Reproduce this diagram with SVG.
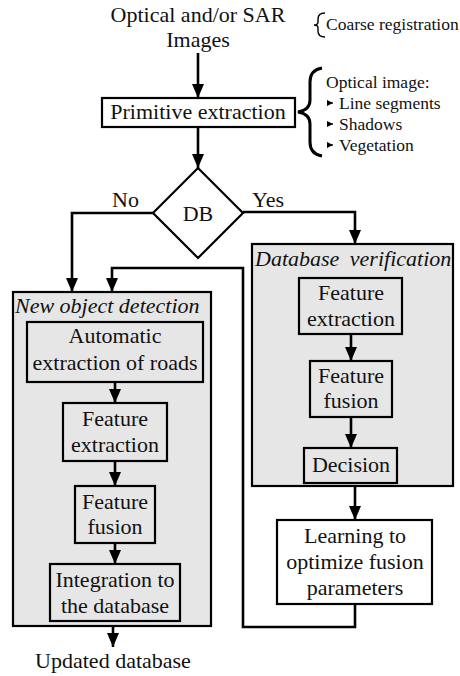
<svg xmlns="http://www.w3.org/2000/svg" width="460" height="676" viewBox="0 0 460 676" font-family="'Liberation Serif', 'DejaVu Serif', serif">
<style>
text{font-family:'Liberation Serif','DejaVu Serif',serif;fill:#111;}
.t{font-size:22px;text-anchor:middle;}
.s{font-size:17.5px;}
.it{font-size:22px;font-style:italic;}
.box{fill:#fff;stroke:#000;stroke-width:2.2;}
.gbox{fill:#e6e6e6;stroke:#000;stroke-width:2.2;}
.cont{fill:#e6e6e6;stroke:#000;stroke-width:2.2;}
.c{fill:none;stroke:#000;stroke-width:2.6;}
</style>
<defs>
<marker id="ah" markerUnits="userSpaceOnUse" markerWidth="14" markerHeight="12" refX="14" refY="6" orient="auto">
<path d="M0,0 L14,6 L0,12 z" fill="#000"/>
</marker>
<marker id="sa" markerUnits="userSpaceOnUse" markerWidth="6" markerHeight="6" refX="6" refY="3" orient="auto">
<path d="M0,0 L6,3 L0,6 z" fill="#000"/>
</marker>
</defs>

<g id="input">
<text class="t" x="198" y="22">Optical and/or SAR</text>
<text class="t" x="198" y="47">Images</text>
</g>

<g id="coarse-note">
<path d="M325,13 Q318,13 318,19 L318,22 Q318,25 314,25 Q318,25 318,28 L318,31 Q318,37 325,37" fill="none" stroke="#000" stroke-width="1.4"/>
<text class="s" x="326" y="30">Coarse registration</text>
</g>

<g id="primitive">
<rect class="box" x="102" y="98" width="193" height="29"/>
<text class="t" x="198" y="119">Primitive extraction</text>
</g>

<g id="primitive-note">
<path d="M322,68 Q310,70 310,82 L310,100 Q310,110 298,112 Q310,114 310,124 L310,142 Q310,154 322,156" fill="none" stroke="#000" stroke-width="3"/>
<text class="s" x="326" y="88">Optical image:</text>
<path d="M328,103 H333" stroke="#000" stroke-width="1.2" marker-end="url(#sa)"/>
<text class="s" x="339" y="109">Line segments</text>
<path d="M328,124 H333" stroke="#000" stroke-width="1.2" marker-end="url(#sa)"/>
<text class="s" x="339" y="130">Shadows</text>
<path d="M328,145 H333" stroke="#000" stroke-width="1.2" marker-end="url(#sa)"/>
<text class="s" x="339" y="151">Vegetation</text>
</g>

<g id="db">
<polygon points="198,168 243,213 198,258 153,213" fill="#fff" stroke="#000" stroke-width="2.2"/>
<text class="t" x="198" y="221">DB</text>
</g>

<g id="new-object-detection">
<rect class="cont" x="13" y="292" width="198" height="334"/>
<text class="it" x="15" y="313">New object detection</text>
</g>
<g id="auto-roads">
<rect class="gbox" x="27" y="322" width="176" height="60" stroke-width="3.2"/>
<text class="t" x="115" y="343">Automatic</text>
<text class="t" x="115" y="370">extraction of roads</text>
</g>
<g id="nod-feature-extraction">
<rect class="gbox" x="63" y="403" width="104" height="58"/>
<text class="t" x="115" y="426">Feature</text>
<text class="t" x="115" y="452">extraction</text>
</g>
<g id="nod-feature-fusion">
<rect class="gbox" x="75" y="486" width="80" height="57"/>
<text class="t" x="115" y="509">Feature</text>
<text class="t" x="115" y="534">fusion</text>
</g>
<g id="integration">
<rect class="gbox" x="50" y="564" width="130" height="57"/>
<text class="t" x="115" y="587">Integration to</text>
<text class="t" x="115" y="613">the database</text>
</g>

<g id="database-verification">
<rect class="cont" x="252" y="244" width="201" height="242"/>
<text class="it" x="255" y="266" word-spacing="5">Database verification</text>
</g>
<g id="dv-feature-extraction">
<rect class="gbox" x="299" y="278" width="103" height="56"/>
<text class="t" x="351" y="300">Feature</text>
<text class="t" x="351" y="326">extraction</text>
</g>
<g id="dv-feature-fusion">
<rect class="gbox" x="310" y="361" width="82" height="56"/>
<text class="t" x="351" y="383">Feature</text>
<text class="t" x="351" y="408">fusion</text>
</g>
<g id="decision">
<rect class="gbox" x="304" y="448" width="93" height="35"/>
<text class="t" x="351" y="472">Decision</text>
</g>

<g id="learning">
<rect class="box" x="277" y="520" width="155" height="84"/>
<text class="t" x="355" y="543">Learning to</text>
<text class="t" x="355" y="569">optimize fusion</text>
<text class="t" x="355" y="595">parameters</text>
</g>

<g id="output">
<text class="t" x="113" y="668">Updated database</text>
</g>

<g id="connectors">
<path class="c" d="M198,53 V98" marker-end="url(#ah)"/>
<path class="c" d="M198,127 V168" marker-end="url(#ah)"/>
<path class="c" d="M153,213 H72 V292" marker-end="url(#ah)"/>
<path class="c" d="M243,212 H355 V244" marker-end="url(#ah)"/>
<path class="c" d="M351,334 V361" marker-end="url(#ah)"/>
<path class="c" d="M351,417 V448" marker-end="url(#ah)"/>
<path class="c" d="M355,486 V520" marker-end="url(#ah)"/>
<path class="c" d="M355,604 V627 H243 V268 H112 V292" marker-end="url(#ah)"/>
<path class="c" d="M115,382 V403" marker-end="url(#ah)"/>
<path class="c" d="M115,461 V486" marker-end="url(#ah)"/>
<path class="c" d="M115,543 V564" marker-end="url(#ah)"/>
<path class="c" d="M113,626 V647" marker-end="url(#ah)"/>
<text x="112" y="207" style="font-size:22px">No</text>
<text x="252" y="207" style="font-size:22px">Yes</text>
</g>
</svg>
